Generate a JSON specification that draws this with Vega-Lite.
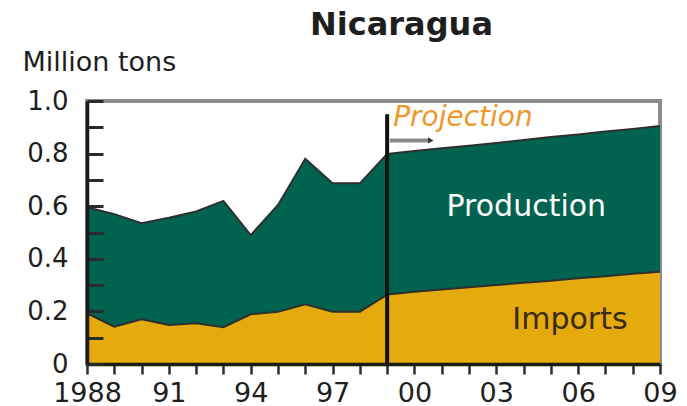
{
  "$schema": "https://vega.github.io/schema/vega-lite/v6.json",
  "width": 573,
  "height": 263,
  "autosize": "none",
  "padding": {"left": 87, "top": 101, "right": 27, "bottom": 42},
  "background": "white",
  "config": {
    "view": {"stroke": "#8c8c8c", "strokeWidth": 4},
    "font": "DejaVu Sans",
    "axis": {"labelOverlap": false, "labelFlush": false, "grid": false}
  },
  "title": {
    "text": "Nicaragua",
    "font": "DejaVu Sans",
    "fontSize": 32,
    "fontWeight": "bold",
    "color": "#1e1e1e",
    "anchor": "middle",
    "frame": "group",
    "dx": 28,
    "offset": 6
  },
  "datasets": {
    "series": [
      {"year": 1988, "series": "Imports", "value": 0.193},
      {"year": 1989, "series": "Imports", "value": 0.142},
      {"year": 1990, "series": "Imports", "value": 0.17},
      {"year": 1991, "series": "Imports", "value": 0.148},
      {"year": 1992, "series": "Imports", "value": 0.155},
      {"year": 1993, "series": "Imports", "value": 0.14},
      {"year": 1994, "series": "Imports", "value": 0.189},
      {"year": 1995, "series": "Imports", "value": 0.199},
      {"year": 1996, "series": "Imports", "value": 0.227},
      {"year": 1997, "series": "Imports", "value": 0.199},
      {"year": 1998, "series": "Imports", "value": 0.199},
      {"year": 1999, "series": "Imports", "value": 0.264},
      {"year": 2000, "series": "Imports", "value": 0.275},
      {"year": 2001, "series": "Imports", "value": 0.283},
      {"year": 2002, "series": "Imports", "value": 0.292},
      {"year": 2003, "series": "Imports", "value": 0.3},
      {"year": 2004, "series": "Imports", "value": 0.309},
      {"year": 2005, "series": "Imports", "value": 0.317},
      {"year": 2006, "series": "Imports", "value": 0.326},
      {"year": 2007, "series": "Imports", "value": 0.334},
      {"year": 2008, "series": "Imports", "value": 0.343},
      {"year": 2009, "series": "Imports", "value": 0.351},
      {"year": 1988, "series": "Production", "value": 0.403},
      {"year": 1989, "series": "Production", "value": 0.428},
      {"year": 1990, "series": "Production", "value": 0.365},
      {"year": 1991, "series": "Production", "value": 0.408},
      {"year": 1992, "series": "Production", "value": 0.425},
      {"year": 1993, "series": "Production", "value": 0.48},
      {"year": 1994, "series": "Production", "value": 0.301},
      {"year": 1995, "series": "Production", "value": 0.406},
      {"year": 1996, "series": "Production", "value": 0.553},
      {"year": 1997, "series": "Production", "value": 0.488},
      {"year": 1998, "series": "Production", "value": 0.488},
      {"year": 1999, "series": "Production", "value": 0.535},
      {"year": 2000, "series": "Production", "value": 0.535},
      {"year": 2001, "series": "Production", "value": 0.537},
      {"year": 2002, "series": "Production", "value": 0.538},
      {"year": 2003, "series": "Production", "value": 0.54},
      {"year": 2004, "series": "Production", "value": 0.543},
      {"year": 2005, "series": "Production", "value": 0.546},
      {"year": 2006, "series": "Production", "value": 0.547},
      {"year": 2007, "series": "Production", "value": 0.55},
      {"year": 2008, "series": "Production", "value": 0.551},
      {"year": 2009, "series": "Production", "value": 0.554}
    ],
    "labels": [
      {"year": 2004.1, "value": 0.597, "label": "Production", "kind": "prod"},
      {"year": 2005.7, "value": 0.167, "label": "Imports", "kind": "imp"}
    ]
  },
  "layer": [
    {
      "data": {"name": "series"},
      "mark": {"type": "area", "opacity": 1},
      "encoding": {
        "x": {
          "field": "year",
          "type": "quantitative",
          "scale": {"domain": [1988, 2009], "nice": false, "zero": false},
          "axis": {
            "title": null,
            "values": [1988, 1989, 1990, 1991, 1992, 1993, 1994, 1995, 1996, 1997, 1998, 1999, 2000, 2001, 2002, 2003, 2004, 2005, 2006, 2007, 2008, 2009],
            "tickCount": 40,
            "labelExpr": "(datum.value - 1988) % 3 == 0 ? (datum.value == 1988 ? '1988' : substring(toString(datum.value), 2)) : ''",
            "labelFontSize": 27,
            "labelColor": "#1e1e1e",
            "labelPadding": 6,
            "labelFlush": false,
            "labelOverlap": false,
            "domainColor": "#1a1a1a",
            "domainWidth": 3.5,
            "tickColor": "#2a2a2a",
            "tickWidth": 2.5,
            "tickSize": 10,
            "grid": false,
            "zindex": 2
          }
        },
        "y": {
          "field": "value",
          "type": "quantitative",
          "stack": "zero",
          "scale": {"domain": [0, 1], "nice": false},
          "axis": {
            "title": "Million tons",
            "titleAngle": 0,
            "titleAlign": "left",
            "titleBaseline": "alphabetic",
            "titleX": -65,
            "titleY": -31,
            "titleFontSize": 27,
            "titleFontWeight": "normal",
            "titleColor": "#1e1e1e",
            "values": [0, 0.1, 0.2, 0.3, 0.4, 0.5, 0.6, 0.7, 0.8, 0.9, 1.0],
            "tickCount": 30,
            "labelExpr": "round(datum.value * 10) % 2 == 0 ? (datum.value == 0 ? '0' : format(datum.value, '.1f')) : ''",
            "labelFontSize": 26,
            "labelColor": "#1e1e1e",
            "labelPadding": 35,
            "labelOverlap": false,
            "domainColor": "#1a1a1a",
            "domainWidth": 3.5,
            "tickColor": "#2a2a2a",
            "tickWidth": 3,
            "tickSize": -16,
            "grid": false,
            "zindex": 2
          }
        },
        "color": {
          "field": "series",
          "type": "nominal",
          "scale": {"domain": ["Imports", "Production"], "range": ["#e5ab0e", "#00634f"]},
          "legend": null
        },
        "order": {"field": "series", "sort": "ascending"}
      }
    },
    {
      "data": {"name": "series"},
      "mark": {"type": "line", "color": "#2e2e2e", "strokeWidth": 2},
      "encoding": {
        "x": {"field": "year", "type": "quantitative"},
        "y": {"field": "value", "type": "quantitative", "stack": "zero"},
        "detail": {"field": "series", "type": "nominal"},
        "order": {"field": "series", "sort": "ascending"}
      }
    },
    {
      "data": {"values": [{"year": 1999, "y1": 0, "y2": 0.95}]},
      "mark": {"type": "rule", "color": "#111111", "strokeWidth": 4},
      "encoding": {
        "x": {"field": "year", "type": "quantitative"},
        "y": {"field": "y1", "type": "quantitative"},
        "y2": {"field": "y2"}
      }
    },
    {
      "data": {"values": [{"x1": 1999.1, "x2": 2000.5, "y": 0.85}]},
      "mark": {"type": "rule", "color": "#8a8a8a", "strokeWidth": 4},
      "encoding": {
        "x": {"field": "x1", "type": "quantitative"},
        "x2": {"field": "x2"},
        "y": {"field": "y", "type": "quantitative"}
      }
    },
    {
      "data": {"values": [{"x": 2000.6, "y": 0.85}]},
      "mark": {"type": "point", "shape": "triangle-right", "filled": true, "color": "#333333", "size": 40, "opacity": 1},
      "encoding": {
        "x": {"field": "x", "type": "quantitative"},
        "y": {"field": "y", "type": "quantitative"}
      }
    },
    {
      "data": {"values": [{"year": 1999, "value": 0.935, "label": "Projection"}]},
      "mark": {"type": "text", "align": "left", "baseline": "middle", "dx": 6, "fontSize": 28, "fontStyle": "italic", "color": "#f0962a", "font": "DejaVu Sans"},
      "encoding": {
        "x": {"field": "year", "type": "quantitative"},
        "y": {"field": "value", "type": "quantitative"},
        "text": {"field": "label"}
      }
    },
    {
      "data": {"name": "labels"},
      "mark": {"type": "text", "align": "center", "baseline": "middle", "fontSize": 30, "font": "DejaVu Sans"},
      "encoding": {
        "x": {"field": "year", "type": "quantitative"},
        "y": {"field": "value", "type": "quantitative"},
        "text": {"field": "label"},
        "color": {
          "field": "kind",
          "type": "nominal",
          "scale": {"domain": ["prod", "imp"], "range": ["#ffffff", "#3a2a12"]},
          "legend": null
        }
      }
    }
  ],
  "resolve": {"scale": {"color": "independent"}}
}
